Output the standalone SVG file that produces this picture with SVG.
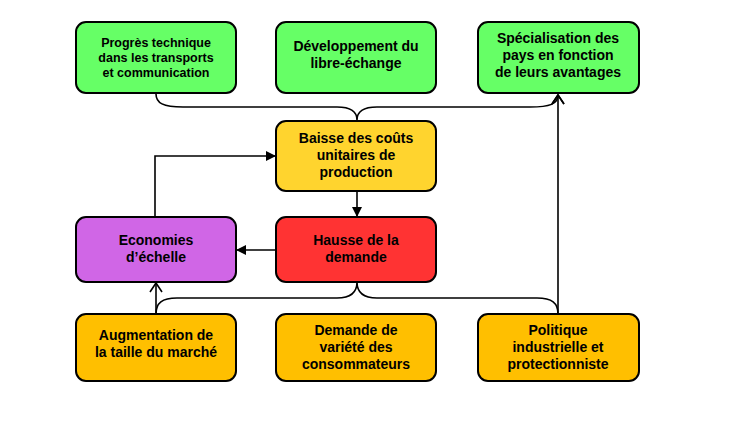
<svg xmlns="http://www.w3.org/2000/svg" width="748" height="447" viewBox="0 0 748 447">
<style>
.box{stroke:#000;stroke-width:2}
.t{font-family:"Liberation Sans",Arial,sans-serif;font-weight:bold;font-size:14px;text-anchor:middle;fill:#000}
.s{font-size:12.5px}
.c{fill:none;stroke:#000;stroke-width:1.6}
.green{fill:#66FF66}.yellow{fill:#FFD42E}.red{fill:#FF3333}.purple{fill:#D066E6}.orange{fill:#FFBF00}
</style>
<defs>
<marker id="fa" markerWidth="10" markerHeight="10" refX="9" refY="5" orient="auto" markerUnits="userSpaceOnUse">
<path d="M0,0 L10,5 L0,10 Z" fill="#000"/>
</marker>
<marker id="oa" markerWidth="12" markerHeight="14" refX="10" refY="7" orient="auto" markerUnits="userSpaceOnUse">
<path d="M1,1 L10,7 L1,13" fill="none" stroke="#000" stroke-width="1.6"/>
</marker>
</defs>
<rect width="748" height="447" fill="#fff"/>
<g id="connectors">
<path class="c" d="M156,94 C156,103 163,107 183,107 H337 C350,107 357,111 357,120 C357,111 364,107 377,107 H530 C550,107 558,104 558,95" marker-end="url(#oa)"/>
<path class="c" d="M558,314 V95" marker-end="url(#oa)"/>
<path class="c" d="M156,314 V283" marker-end="url(#oa)"/>
<path class="c" d="M156,314 C156,303 162,298 177,298 H337 C350,298 357,293 357,282 C357,293 364,298 377,298 H537 C552,298 558,303 558,314"/>
<path class="c" d="M357,192 V216" marker-end="url(#fa)"/>
<path class="c" d="M276,250 H237" marker-end="url(#fa)"/>
<path class="c" d="M155,217 V156 H275" marker-end="url(#fa)"/>
</g>
<g id="n1"><rect class="box green" x="76" y="22" width="160" height="71" rx="10"/>
<text class="t s" x="156" y="47">Progrès technique</text><text class="t s" x="156" y="62">dans les transports</text><text class="t s" x="156" y="77">et communication</text></g>
<g id="n2"><rect class="box green" x="276" y="22" width="160" height="71" rx="10"/>
<text class="t" x="356" y="51">Développement du</text><text class="t" x="356" y="68">libre-échange</text></g>
<g id="n3"><rect class="box green" x="478" y="22" width="161" height="71" rx="10"/>
<text class="t" x="558" y="43">Spécialisation des</text><text class="t" x="558" y="60">pays en fonction</text><text class="t" x="558" y="77">de leurs avantages</text></g>
<g id="n4"><rect class="box yellow" x="276" y="121" width="160" height="70" rx="10"/>
<text class="t" x="356" y="143">Baisse des coûts</text><text class="t" x="356" y="160">unitaires de</text><text class="t" x="356" y="177">production</text></g>
<g id="n5"><rect class="box purple" x="76" y="217" width="160" height="65" rx="10"/>
<text class="t" x="156" y="245">Economies</text><text class="t" x="156" y="262">d’échelle</text></g>
<g id="n6"><rect class="box red" x="276" y="217" width="160" height="65" rx="10"/>
<text class="t" x="356" y="245">Hausse de la</text><text class="t" x="356" y="262">demande</text></g>
<g id="n7"><rect class="box orange" x="76" y="314" width="160" height="67" rx="10"/>
<text class="t" x="156" y="340">Augmentation de</text><text class="t" x="156" y="357">la taille du marché</text></g>
<g id="n8"><rect class="box orange" x="276" y="314" width="160" height="67" rx="10"/>
<text class="t" x="356" y="335">Demande de</text><text class="t" x="356" y="352">variété des</text><text class="t" x="356" y="369">consommateurs</text></g>
<g id="n9"><rect class="box orange" x="478" y="314" width="161" height="67" rx="10"/>
<text class="t" x="558" y="335">Politique</text><text class="t" x="558" y="352">industrielle et</text><text class="t" x="558" y="369">protectionniste</text></g>
</svg>
